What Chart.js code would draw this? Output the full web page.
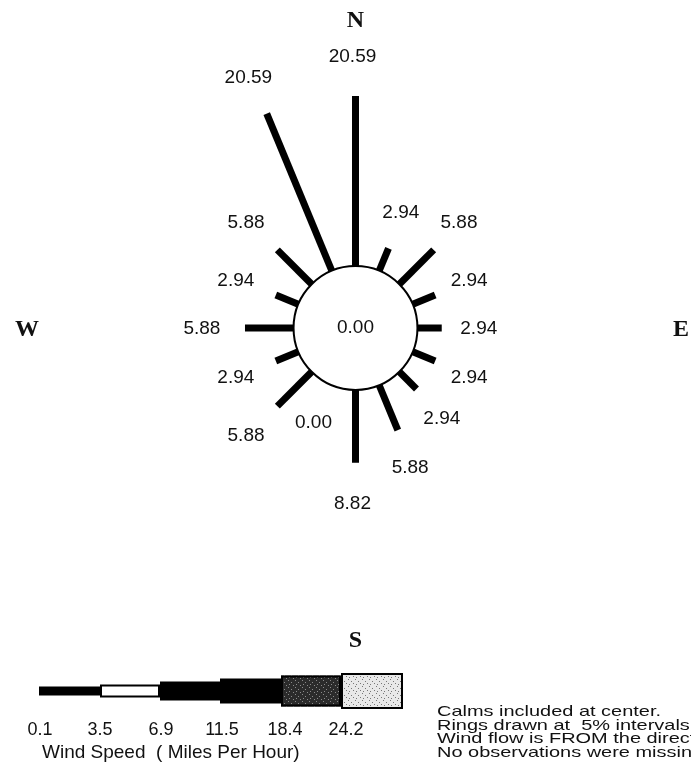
<!DOCTYPE html>
<html lang="en">
<head>
  <meta charset="UTF-8">
  <title>Wind Rose</title>
  <script src="https://cdn.jsdelivr.net/npm/chart.js"></script>
  <style>
    html, body { margin: 0; padding: 0; background: #fff; }
    #wrap { width: 691px; height: 768px; position: relative; }
  </style>
</head>
<body>
  <div id="wrap"><canvas id="roseChart"></canvas></div>

  <script>
    // Wind rose data (percent of observations, 16 directions clockwise from N)
    const directions = ['N', 'NNE', 'NE', 'ENE', 'E', 'ESE', 'SE', 'SSE',
                        'S', 'SSW', 'SW', 'WSW', 'W', 'WNW', 'NW', 'NNW'];
    const frequencies = [20.59, 2.94, 5.88, 2.94, 2.94, 2.94, 2.94, 5.88,
                         8.82, 0.00, 5.88, 2.94, 5.88, 2.94, 5.88, 20.59];
    const calmPercent = 0.00;
    const compassLabels = ['N', 'E', 'S', 'W'];
    const speedBins = ['0.1', '3.5', '6.9', '11.5', '18.4', '24.2'];
    const speedTitle = 'Wind Speed  ( Miles Per Hour)';
    const notes = [
      'Calms included at center.',
      'Rings drawn at  5% intervals.',
      'Wind flow is FROM the directions shown.',
      'No observations were missing.'
    ];

    // layout (pixels)
    const W = 691, H = 768;
    const centerPx = { x: 355.5, y: 328 };
    const pxPerUnit = 8.26;      // pixels per percent
    const calmRadius = 7.5;      // radius of centre circle, in percent units
    const labelGap = 4.85;       // gap between bar end and its label

    function polar(i, r) {
      const a = i * 22.5 * Math.PI / 180;
      return { x: r * Math.sin(a), y: r * Math.cos(a) };
    }

    const datasets = directions.map((d, i) => ({
      label: d,
      data: [polar(i, calmRadius), polar(i, calmRadius + frequencies[i])],
      showLine: true,
      borderColor: '#000',
      borderWidth: 7,
      borderCapStyle: 'butt',
      pointRadius: 0,
      pointHoverRadius: 0
    }));

    function stipple(ctx, base, dot, spots) {
      const c = document.createElement('canvas');
      c.width = 7; c.height = 7;
      const g = c.getContext('2d');
      g.fillStyle = base;
      g.fillRect(0, 0, 7, 7);
      g.fillStyle = dot;
      spots.forEach(([x, y]) => g.fillRect(x, y, 1, 1));
      return ctx.createPattern(c, 'repeat');
    }

    const decor = {
      id: 'decor',
      afterDatasetsDraw(chart) {
        const ctx = chart.ctx;
        const xs = chart.scales.x, ys = chart.scales.y;
        const cx = xs.getPixelForValue(0), cy = ys.getPixelForValue(0);
        const rPx = xs.getPixelForValue(calmRadius) - cx;
        ctx.save();

        // calm circle
        ctx.beginPath();
        ctx.arc(cx, cy, rPx, 0, Math.PI * 2);
        ctx.fillStyle = '#fff';
        ctx.fill();
        ctx.lineWidth = 2;
        ctx.strokeStyle = '#000';
        ctx.stroke();

        ctx.fillStyle = '#111';
        ctx.textAlign = 'center';
        ctx.textBaseline = 'middle';
        ctx.font = '19px "Liberation Sans", Arial, sans-serif';
        ctx.fillText(calmPercent.toFixed(2), cx, cy);

        // value labels beyond each bar
        frequencies.forEach((v, i) => {
          const p = polar(i, calmRadius + v + labelGap);
          ctx.fillText(v.toFixed(2), xs.getPixelForValue(p.x) - 3, ys.getPixelForValue(p.y) + 1);
        });

        // compass letters
        ctx.font = 'bold 24px "Liberation Serif", "Times New Roman", serif';
        const letterPos = { N: [cx, 21], E: [681, cy + 2], S: [cx, 641], W: [27, cy + 2] };
        compassLabels.forEach(l => ctx.fillText(l, letterPos[l][0], letterPos[l][1]));

        // wind speed legend bar
        const ly = 691;
        const edges = [39, 100, 160, 220, 281, 341, 403];
        const heights = [9, 13, 19, 25, 31, 36];
        const fills = ['#000', '#fff', '#000', '#000',
          stipple(ctx, '#2b2b2b', '#8a8a8a', [[1, 1], [4, 3], [2, 5], [6, 6]]),
          stipple(ctx, '#e8e8e8', '#777', [[1, 2], [5, 0], [3, 4], [6, 5]])];
        const outlined = [false, true, false, false, true, true];
        for (let k = 0; k < 6; k++) {
          const x0 = edges[k], w = edges[k + 1] - edges[k], h = heights[k];
          ctx.fillStyle = fills[k];
          ctx.fillRect(x0, ly - h / 2, w, h);
          if (outlined[k]) {
            ctx.lineWidth = 2;
            ctx.strokeStyle = '#000';
            ctx.strokeRect(x0 + 1, ly - h / 2 + 1, w - 2, h - 2);
          }
        }

        ctx.fillStyle = '#111';
        ctx.font = '18px "Liberation Sans", Arial, sans-serif';
        const binX = [40, 100, 161, 222, 285, 346];
        speedBins.forEach((s, k) => ctx.fillText(s, binX[k], 730));
        ctx.textAlign = 'left';
        ctx.font = '19px "Liberation Sans", Arial, sans-serif';
        ctx.fillText(speedTitle, 42, 753);

        // notes, drawn a little wide like the original print
        ctx.font = '15px "Liberation Sans", Arial, sans-serif';
        notes.forEach((t, k) => {
          ctx.save();
          ctx.translate(437, 712 + k * 13.6);
          ctx.scale(1.33, 1);
          ctx.fillText(t, 0, 0);
          ctx.restore();
        });

        ctx.restore();
      }
    };

    const ctx = document.getElementById('roseChart').getContext('2d');
    new Chart(ctx, {
      type: 'scatter',
      data: { datasets },
      options: {
        responsive: true,
        maintainAspectRatio: false,
        animation: false,
        layout: { padding: 0 },
        plugins: { legend: { display: false }, tooltip: { enabled: false } },
        events: [],
        scales: {
          x: { type: 'linear', display: false,
               min: -centerPx.x / pxPerUnit, max: (W - centerPx.x) / pxPerUnit },
          y: { type: 'linear', display: false,
               min: -(H - centerPx.y) / pxPerUnit, max: centerPx.y / pxPerUnit }
        }
      },
      plugins: [decor]
    });
  </script>
</body>
</html>
